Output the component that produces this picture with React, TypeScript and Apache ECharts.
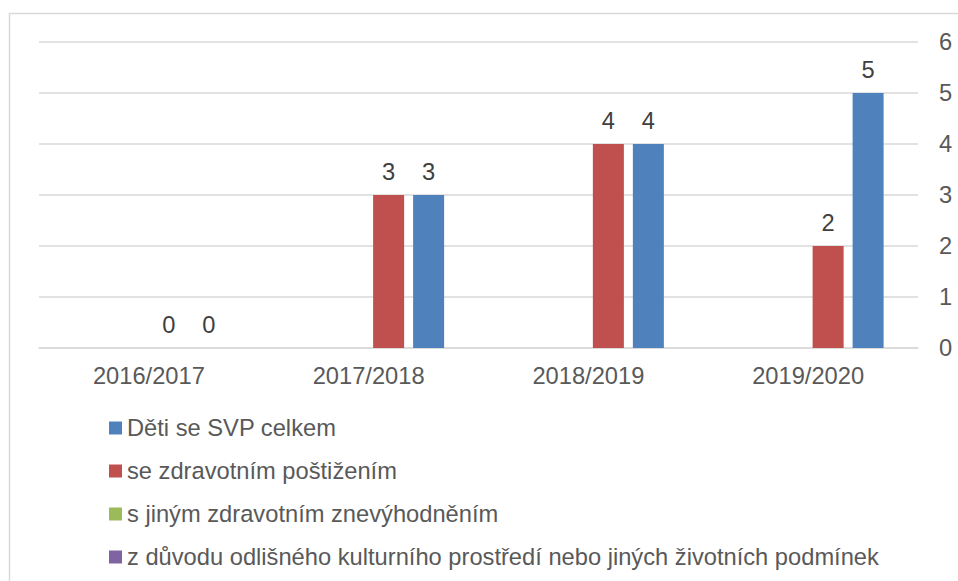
import React, { useEffect, useRef } from "react";
import * as echarts from "echarts";

const categories = ["2016/2017", "2017/2018", "2018/2019", "2019/2020"];
const seriesNames = [
  "z důvodu odlišného kulturního prostředí nebo jiných životních podmínek",
  "s jiným zdravotním znevýhodněním",
  "se zdravotním poštižením",
  "Děti se SVP celkem",
];
const kulturniValues: (number | null)[] = [null, null, null, null];
const jinymValues: (number | null)[] = [null, null, null, null];
const postizenimValues: (number | null)[] = [0, 3, 4, 2];
const celkemValues: (number | null)[] = [0, 3, 4, 5];
const seriesColors = ["#8064a2", "#9bbb59", "#c0504d", "#4f81bd"];
const legendOrder = [
  "Děti se SVP celkem",
  "se zdravotním poštižením",
  "s jiným zdravotním znevýhodněním",
  "z důvodu odlišného kulturního prostředí nebo jiných životních podmínek",
];

export default function App() {
  const ref = useRef<HTMLDivElement>(null);
  useEffect(() => {
    if (!ref.current) return;
    const chart = echarts.init(ref.current, null, { renderer: "svg" });
    const font = "Liberation Sans, Arial, sans-serif";
    const fs = 23.7;
    const allValues = [kulturniValues, jinymValues, postizenimValues, celkemValues];
    const series = seriesNames.map((name, i) => ({
      name,
      type: "bar" as const,
      data: allValues[i],
      barWidth: 31,
      barGap: "29%",
      itemStyle: { color: seriesColors[i] },
      label: {
        show: i >= 2,
        position: "top" as const,
        distance: 11,
        color: "#404040",
        fontSize: fs,
        fontFamily: font,
      },
    }));
    chart.setOption({
      animation: false,
      backgroundColor: "#ffffff",
      grid: { left: 39, right: 40, top: 42, bottom: 233, containLabel: false },
      graphic: [
        {
          type: "rect",
          shape: { x: 9.5, y: 13.5, width: 980, height: 600 },
          style: { fill: "none", stroke: "#d9d9d9", lineWidth: 1.5 },
          silent: true,
        },
      ],
      legend: {
        orient: "vertical",
        left: 104,
        top: 411,
        data: legendOrder,
        icon: "rect",
        itemWidth: 13,
        itemHeight: 13,
        itemGap: 19,
        textStyle: { color: "#595959", fontSize: fs, fontFamily: font, lineHeight: 24 },
      },
      xAxis: {
        type: "category",
        data: categories,
        axisLine: { show: true, lineStyle: { color: "#d9d9d9", width: 1.5 } },
        axisTick: { show: false },
        axisLabel: { color: "#595959", fontSize: fs, fontFamily: font, margin: 16 },
      },
      yAxis: {
        type: "value",
        position: "right",
        min: 0,
        max: 6,
        interval: 1,
        axisLine: { show: false },
        axisTick: { show: false },
        splitLine: { lineStyle: { color: "#d9d9d9", width: 1.5 } },
        axisLabel: { color: "#595959", fontSize: fs, fontFamily: font, margin: 21 },
      },
      series,
    });
    return () => chart.dispose();
  }, []);
  return (
    <div
      ref={ref}
      style={{ position: "fixed", left: 0, top: 0, width: 958, height: 581 }}
    />
  );
}
